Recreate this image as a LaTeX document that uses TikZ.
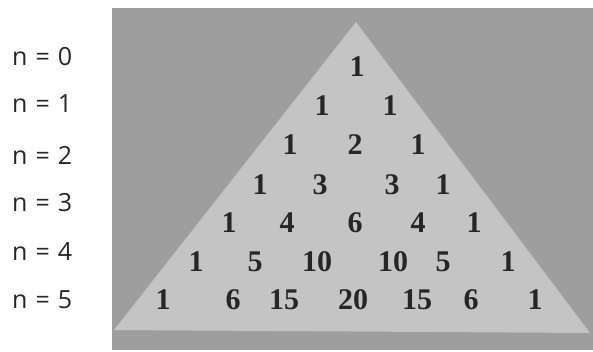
\documentclass[tikz,border=0pt]{standalone}
\usepackage{fontspec}
\newfontfamily\rowfont{Open Sans}
\newfontfamily\numfont{Liberation Serif}
\definecolor{darkpanel}{HTML}{9E9E9E}
\definecolor{lightpanel}{HTML}{C4C4C4}
\newcommand{\rowsep}{\hspace{0.32em}}

\begin{document}
\begin{tikzpicture}[
  x=1pt, y=-1pt,
  every node/.style={inner sep=0pt},
  rowlabel/.style={anchor=west, font=\rowfont\fontsize{25}{25}\selectfont, text=black!85},
  entry/.style={font=\numfont\bfseries\fontsize{30}{30}\selectfont, text=black!85}
]
\useasboundingbox (0,0) rectangle (593,352);

% panel and triangle
\fill[darkpanel] (112,8) rectangle (593,350);
\coordinate (apex) at (356,22);
\coordinate (baseL) at (114,330);
\coordinate (baseR) at (590,333);
\fill[lightpanel] (apex) -- (baseR) -- (baseL) -- cycle;

% row labels
\node[rowlabel] (n0) at (12,57) {n\rowsep=\rowsep0};
\node[rowlabel] (n1) at (12,104) {n\rowsep=\rowsep1};
\node[rowlabel] (n2) at (12,155) {n\rowsep=\rowsep2};
\node[rowlabel] (n3) at (12,203) {n\rowsep=\rowsep3};
\node[rowlabel] (n4) at (12,252) {n\rowsep=\rowsep4};
\node[rowlabel] (n5) at (12,300) {n\rowsep=\rowsep5};

% entries
\node[entry] (a1) at (357,67) {1};

\node[entry] (b1) at (322,106) {1};
\node[entry] (b2) at (390,106) {1};

\node[entry] (c1) at (290,145) {1};
\node[entry] (c2) at (355,145) {2};
\node[entry] (c3) at (418,145) {1};

\node[entry] (d1) at (260,185) {1};
\node[entry] (d2) at (320,185) {3};
\node[entry] (d3) at (392,185) {3};
\node[entry] (d4) at (443,185) {1};

\node[entry] (e1) at (229,223) {1};
\node[entry] (e2) at (287,223) {4};
\node[entry] (e3) at (355,223) {6};
\node[entry] (e4) at (418,223) {4};
\node[entry] (e5) at (474,223) {1};

\node[entry] (f1) at (196,262) {1};
\node[entry] (f2) at (255,262) {5};
\node[entry] (f3) at (317,262) {10};
\node[entry] (f4) at (393,262) {10};
\node[entry] (f5) at (443,262) {5};
\node[entry] (f6) at (508,262) {1};

\node[entry] (g1) at (163,300) {1};
\node[entry] (g2) at (233,300) {6};
\node[entry] (g3) at (284,300) {15};
\node[entry] (g4) at (353,300) {20};
\node[entry] (g5) at (417,300) {15};
\node[entry] (g6) at (471,300) {6};
\node[entry] (g7) at (535,300) {1};
\end{tikzpicture}
\end{document}
